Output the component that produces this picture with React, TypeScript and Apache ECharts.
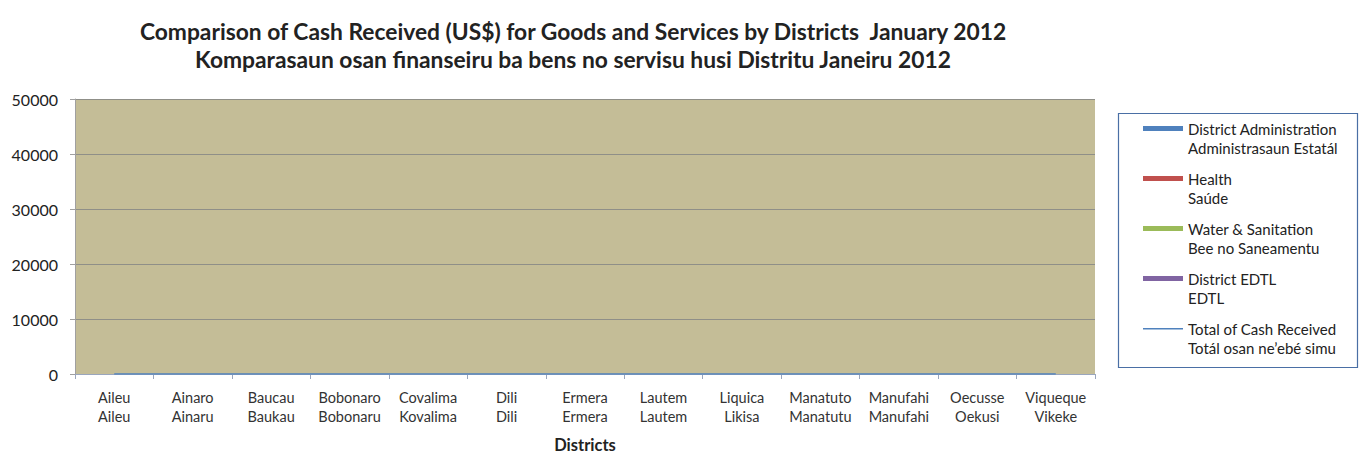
import React, { useEffect, useRef } from "react";
import * as echarts from "echarts";

const districtsEn = ["Aileu", "Ainaro", "Baucau", "Bobonaro", "Covalima", "Dili", "Ermera", "Lautem", "Liquica", "Manatuto", "Manufahi", "Oecusse", "Viqueque"];
const districtsTet = ["Aileu", "Ainaru", "Baukau", "Bobonaru", "Kovalima", "Dili", "Ermera", "Lautem", "Likisa", "Manatutu", "Manufahi", "Oekusi", "Vikeke"];

const districtAdmin = [0, 0, 0, 0, 0, 0, 0, 0, 0, 0, 0, 0, 0];
const health = [0, 0, 0, 0, 0, 0, 0, 0, 0, 0, 0, 0, 0];
const waterSanitation = [0, 0, 0, 0, 0, 0, 0, 0, 0, 0, 0, 0, 0];
const districtEdtl = [0, 0, 0, 0, 0, 0, 0, 0, 0, 0, 0, 0, 0];
const totalCash = [0, 0, 0, 0, 0, 0, 0, 0, 0, 0, 0, 0, 0];

const seriesNames = [
  "District Administration\nAdministrasaun Estatál",
  "Health\nSaúde",
  "Water & Sanitation\nBee no Saneamentu",
  "District EDTL\nEDTL",
  "Total of Cash Received\nTotál osan ne’ebé simu",
];
const seriesColors = ["#4f81bd", "#c0504d", "#9bbb59", "#8064a2", "#4f81bd"];

const titleLines = [
  "Comparison of Cash Received (US$) for Goods and Services by Districts  January 2012",
  "Komparasaun osan finanseiru ba bens no servisu husi Distritu Janeiru 2012",
];

const FONT = "Lato, 'Open Sans', sans-serif";

export default function App() {
  const ref = useRef<HTMLDivElement>(null);
  useEffect(() => {
    document.body.style.margin = "0";
    const chart = echarts.init(ref.current!, null, { renderer: "svg" });
    const barIcon = "path://M0,7 L40,7 L40,12 L0,12 Z M0,0 L0.01,0 L0.01,0.01 Z M0,38 L0.01,38 L0.01,38.01 Z";
    const lineIcon = "path://M0,9 L40,9 L40,10.5 L0,10.5 Z M0,0 L0.01,0 L0.01,0.01 Z M0,38 L0.01,38 L0.01,38.01 Z";
    const barData = [districtAdmin, health, waterSanitation, districtEdtl];
    chart.setOption({
      animation: false,
      textStyle: { fontFamily: FONT },
      title: {
        text: titleLines.join("\n"),
        left: 573,
        top: 17,
        padding: 0,
        textAlign: "center",
        textStyle: { fontFamily: FONT, fontSize: 22.8, fontWeight: "bold", color: "#222", lineHeight: 28 },
      },
      graphic: [
        {
          type: "rect",
          shape: { x: 1118.5, y: 113.5, width: 239, height: 254 },
          style: { fill: "#fff", stroke: "#4a6fa5", lineWidth: 1.2 },
          z: -1,
        },
      ],
      legend: {
        orient: "vertical",
        left: 1143,
        top: 119,
        padding: 0,
        itemGap: 12,
        itemWidth: 40,
        itemHeight: 38,
        selectedMode: false,
        textStyle: { fontFamily: FONT, fontSize: 15, color: "#222", lineHeight: 19 },
        data: seriesNames.map((n, i) => ({
          name: n,
          icon: i === 4 ? lineIcon : barIcon,
          itemStyle: { color: seriesColors[i] },
        })),
      },
      grid: {
        left: 75,
        right: 264,
        top: 99,
        bottom: 80,
        show: true,
        backgroundColor: "#c4bd97",
        borderWidth: 0,
        containLabel: false,
        outerBoundsMode: "none",
      },
      xAxis: {
        type: "category",
        data: districtsEn.map((d, i) => d + "\n" + districtsTet[i]),
        boundaryGap: true,
        name: "Districts",
        nameLocation: "middle",
        nameGap: 62,
        nameTextStyle: { fontFamily: FONT, fontSize: 16.5, fontWeight: "bold", color: "#222" },
        axisLine: { lineStyle: { color: "#9aa6bd", width: 1 } },
        axisTick: { show: true, length: 5, lineStyle: { color: "#9aa6bd" } },
        axisLabel: { interval: 0, margin: 14, fontFamily: FONT, fontSize: 14.5, lineHeight: 19, color: "#333" },
      },
      yAxis: {
        type: "value",
        min: 0,
        max: 50000,
        interval: 10000,
        axisLine: { show: true, lineStyle: { color: "#a0a0a0" } },
        axisTick: { show: true, length: 5, lineStyle: { color: "#a0a0a0" } },
        axisLabel: { margin: 17, fontFamily: FONT, fontSize: 16, color: "#222", formatter: (v: number) => String(v) },
        splitLine: { show: true, lineStyle: { color: "#8f8f88", width: 1 } },
      },
      series: [
        ...barData.map((d, i) => ({
          name: seriesNames[i],
          type: "bar",
          data: d,
          itemStyle: { color: seriesColors[i] },
          barGap: "0%",
        })),
        {
          name: seriesNames[4],
          type: "line",
          data: totalCash,
          symbol: "none",
          lineStyle: { color: seriesColors[4], width: 1.5 },
          itemStyle: { color: seriesColors[4] },
          z: 5,
        },
      ],
    });
    return () => chart.dispose();
  }, []);
  return <div ref={ref} style={{ width: 1359, height: 454 }} />;
}
